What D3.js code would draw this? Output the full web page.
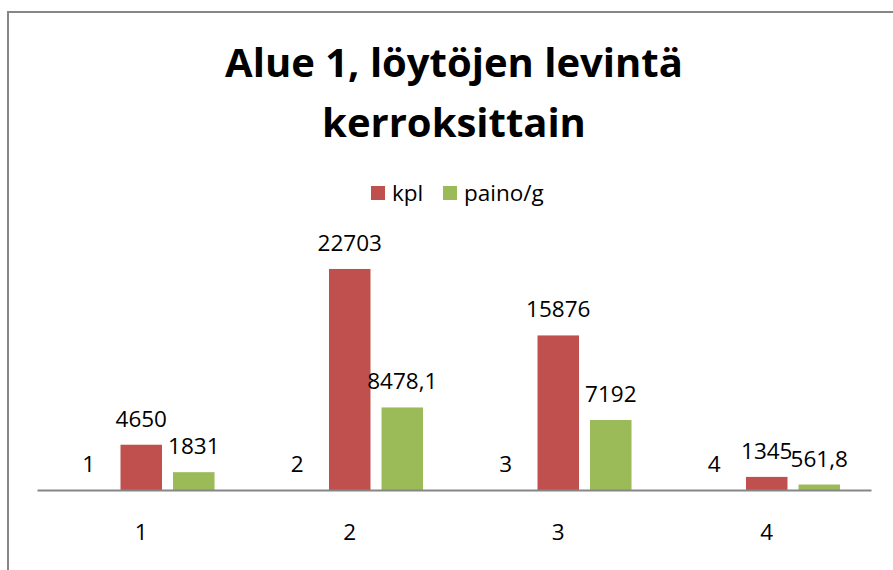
<!DOCTYPE html>
<html lang="fi">
<head>
    <meta charset="UTF-8">
    <title>Alue 1, löytöjen levintä kerroksittain</title>
    <script src="https://d3js.org/d3.v7.min.js"></script>
    <style>
        body { margin: 0; background: #fff; }
        svg text { font-family: "Open Sans", "Liberation Sans", sans-serif; fill: #000; }
        .title { font-weight: bold; }
    </style>
</head>
<body>
    <div id="chart"></div>

    <script>
        // data
        const categories = ["1", "2", "3", "4"];
        const kerros = [1, 2, 3, 4];                 // hidden series, only its labels show
        const kpl = [4650, 22703, 15876, 1345];
        const painoG = [1831, 8478.1, 7192, 561.8];
        const seriesNames = ["kerros", "kpl", "paino/g"];
        const seriesColors = ["none", "#C0504D", "#9BBB59"];
        const titleLines = ["Alue 1, löytöjen levintä", "kerroksittain"];

        const width = 893, height = 570;
        const fmt = v => String(v).replace(".", ",");

        const svg = d3.select("#chart").append("svg")
            .attr("width", width)
            .attr("height", height);

        // outer frame (only left and top visible in the crop)
        svg.append("rect")
            .attr("x", 8).attr("y", 12)
            .attr("width", width + 20).attr("height", height + 20)
            .attr("fill", "none")
            .attr("stroke", "#868686")
            .attr("stroke-width", 2);

        // title
        svg.selectAll(".title")
            .data(titleLines)
            .enter().append("text")
            .attr("class", "title")
            .attr("x", 454)
            .attr("y", (d, i) => 77 + i * 60)
            .attr("text-anchor", "middle")
            .style("font-size", "40px")
            .text(d => d);

        // legend
        const legend = svg.append("g");
        const legendItems = [
            { name: seriesNames[1], color: seriesColors[1], x: 371 },
            { name: seriesNames[2], color: seriesColors[2], x: 443 }
        ];
        const li = legend.selectAll("g").data(legendItems).enter().append("g")
            .attr("transform", d => `translate(${d.x},0)`);
        li.append("rect")
            .attr("y", 186).attr("width", 14).attr("height", 14)
            .attr("fill", d => d.color);
        li.append("text")
            .attr("x", 21).attr("y", 200.5)
            .style("font-size", "22.5px")
            .text(d => d.name);

        // scales
        const x = d3.scaleBand().domain(categories).range([37, 871]);
        const xs = d3.scaleBand().domain(seriesNames).range([0, x.bandwidth()])
            .paddingInner(0.21).paddingOuter(0.59);
        const y = d3.scaleLinear().domain([0, 25000]).range([490, 246.6]);

        const rows = categories.map((c, i) => ({
            cat: c,
            vals: [kerros[i], kpl[i], painoG[i]].map((v, j) => ({ key: seriesNames[j], v, color: seriesColors[j] }))
        }));

        const groups = svg.append("g").selectAll("g").data(rows).enter().append("g")
            .attr("transform", d => `translate(${x(d.cat)},0)`);

        groups.selectAll("rect").data(d => d.vals).enter().append("rect")
            .attr("x", d => xs(d.key))
            .attr("width", xs.bandwidth())
            .attr("y", d => y(d.v))
            .attr("height", d => y(0) - y(d.v))
            .attr("fill", d => d.color);

        groups.selectAll("text").data(d => d.vals).enter().append("text")
            .attr("x", d => xs(d.key) + xs.bandwidth() / 2)
            .attr("y", d => y(d.v) - 18)
            .attr("text-anchor", "middle")
            .style("font-size", "22.5px")
            .text(d => fmt(d.v));

        // x axis
        const xAxis = svg.append("g")
            .attr("transform", `translate(0,${y(0)})`)
            .call(d3.axisBottom(x).tickSize(0).tickPadding(50));
        xAxis.select(".domain").attr("stroke", "#868686").attr("stroke-width", 2);
        xAxis.selectAll("text")
            .style("font-size", "22.5px")
            .style("font-family", "'Open Sans', 'Liberation Sans', sans-serif")
            .attr("dy", "0");
    </script>
</body>
</html>
